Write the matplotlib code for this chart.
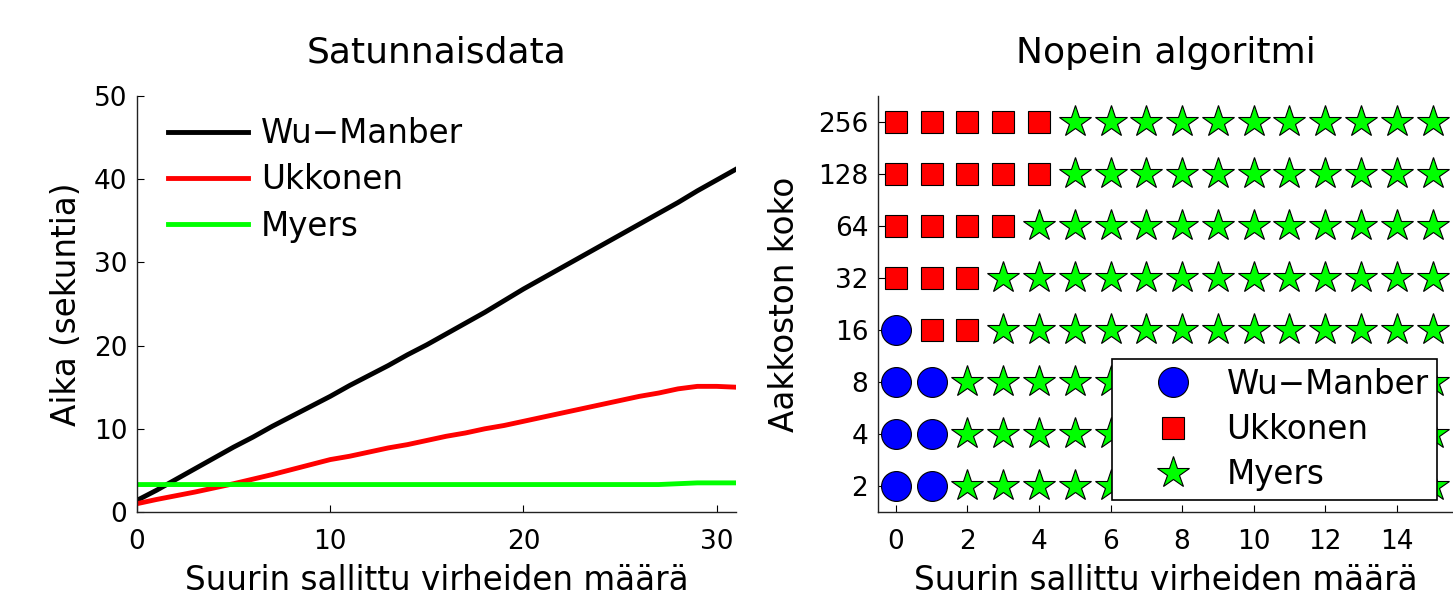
import matplotlib as mpl
mpl.use("Agg")

import matplotlib.pyplot as plt
import numpy as np

mpl.rcParams.update({
    "font.family": ["DejaVu Sans"],
    "axes.linewidth": 1.0,
    "axes.edgecolor": "#222222",
    "xtick.direction": "in",
    "ytick.direction": "in",
})

# left panel: run time (s) vs max allowed errors
errors = list(range(32))
wu_manber = [1.4, 2.6, 3.9, 5.2, 6.5, 7.8, 9.0, 10.3, 11.5, 12.7, 13.9, 15.2,
             16.4, 17.6, 18.9, 20.1, 21.4, 22.7, 24.0, 25.4, 26.8, 28.1, 29.4,
             30.7, 32.0, 33.3, 34.6, 35.9, 37.2, 38.6, 39.9, 41.2]
ukkonen = [1.0, 1.5, 1.95, 2.4, 2.9, 3.4, 3.95, 4.5, 5.1, 5.7, 6.3, 6.7, 7.2,
           7.7, 8.1, 8.6, 9.1, 9.5, 10.0, 10.4, 10.9, 11.4, 11.9, 12.4, 12.9,
           13.4, 13.9, 14.3, 14.8, 15.1, 15.1, 15.0]
myers = [3.3, 3.3, 3.3, 3.3, 3.3, 3.3, 3.3, 3.3, 3.3, 3.3, 3.3, 3.3, 3.3,
         3.3, 3.3, 3.3, 3.3, 3.3, 3.3, 3.3, 3.3, 3.3, 3.3, 3.3, 3.3, 3.3,
         3.3, 3.3, 3.4, 3.5, 3.5, 3.5]

# right panel: fastest algorithm per (alphabet size, max errors)
alphabet = [2, 4, 8, 16, 32, 64, 128, 256]
max_err = list(range(16))
# W = Wu-Manber, U = Ukkonen, M = Myers
fastest = ["WWMMMMMMMMMMMMMM",
           "WWMMMMMMMMMMMMMM",
           "WWMMMMMMMMMMMMMM",
           "WUUMMMMMMMMMMMMM",
           "UUUMMMMMMMMMMMMM",
           "UUUUMMMMMMMMMMMM",
           "UUUUUMMMMMMMMMMM",
           "UUUUUMMMMMMMMMMM"]

fig = plt.figure(figsize=(14.53, 5.99), dpi=100)
ax1 = fig.add_axes([137/1453, 87/599, 599/1453, 416/599])
ax2 = fig.add_axes([878/1453, 87/599, 576/1453, 416/599])

ax1.plot(errors, wu_manber, color="k", lw=3.5, label="Wu\u2212Manber")
ax1.plot(errors, ukkonen, color="#ff0000", lw=3.5, label="Ukkonen")
ax1.plot(errors, myers, color="#00ff00", lw=3.5, label="Myers")
ax1.set_xlim(0, 31)
ax1.set_ylim(0, 50)
ax1.set_xticks([0, 10, 20, 30])
ax1.set_yticks([0, 10, 20, 30, 40, 50])
ax1.set_title("Satunnaisdata", fontsize=26, pad=24)
ax1.set_xlabel("Suurin sallittu virheiden määrä", fontsize=23.5, labelpad=6.5)
ax1.set_ylabel("Aika (sekuntia)", fontsize=23.5, labelpad=8)
ax1.legend(loc="upper left", bbox_to_anchor=(0.003, 1.02), frameon=False,
           fontsize=23.5, handlelength=2.45, handletextpad=0.4,
           labelspacing=0.41)

styles = {"W": ("o", "#0000ff", 21.5),
          "U": ("s", "#ff0000", 16.5),
          "M": ("*", "#00ff00", 24)}
names = {"W": "Wu\u2212Manber", "U": "Ukkonen", "M": "Myers"}
for key in ["W", "U", "M"]:
    xs, ys = [], []
    for row, s in enumerate(fastest):
        for col, c in enumerate(s):
            if c == key:
                xs.append(max_err[col])
                ys.append(row + 1)
    m, col_, ms = styles[key]
    ax2.plot(xs, ys, ls="none", marker=m, markersize=ms, markerfacecolor=col_,
             markeredgecolor="k", markeredgewidth=0.8, label=names[key],
             clip_on=False)
ax2.set_xlim(-0.5, 15.6)
ax2.set_ylim(0.5, 8.5)
ax2.set_xticks(range(0, 16, 2))
ax2.set_yticks(range(1, 9))
ax2.set_yticklabels([str(a) for a in alphabet])
ax2.set_title("Nopein algoritmi", fontsize=26, pad=24)
ax2.set_xlabel("Suurin sallittu virheiden määrä", fontsize=23.5, labelpad=6.5)
ax2.set_ylabel("Aakkoston koko", fontsize=23.5, labelpad=12)
leg = ax2.legend(loc="lower right", bbox_to_anchor=(0.97, 0.03), fontsize=23.5,
                 fancybox=False, framealpha=1, edgecolor="k",
                 handlelength=3.2, handletextpad=0.05, labelspacing=0.38,
                 borderpad=0.25, borderaxespad=0)
leg.get_frame().set_linewidth(1.2)

for ax in (ax1, ax2):
    ax.spines["top"].set_visible(False)
    ax.spines["right"].set_visible(False)
    ax.tick_params(labelsize=19, length=5)
    ax.tick_params(axis="x", pad=12)
    ax.tick_params(axis="y", pad=7)

plt.savefig("out.png", dpi=100)
